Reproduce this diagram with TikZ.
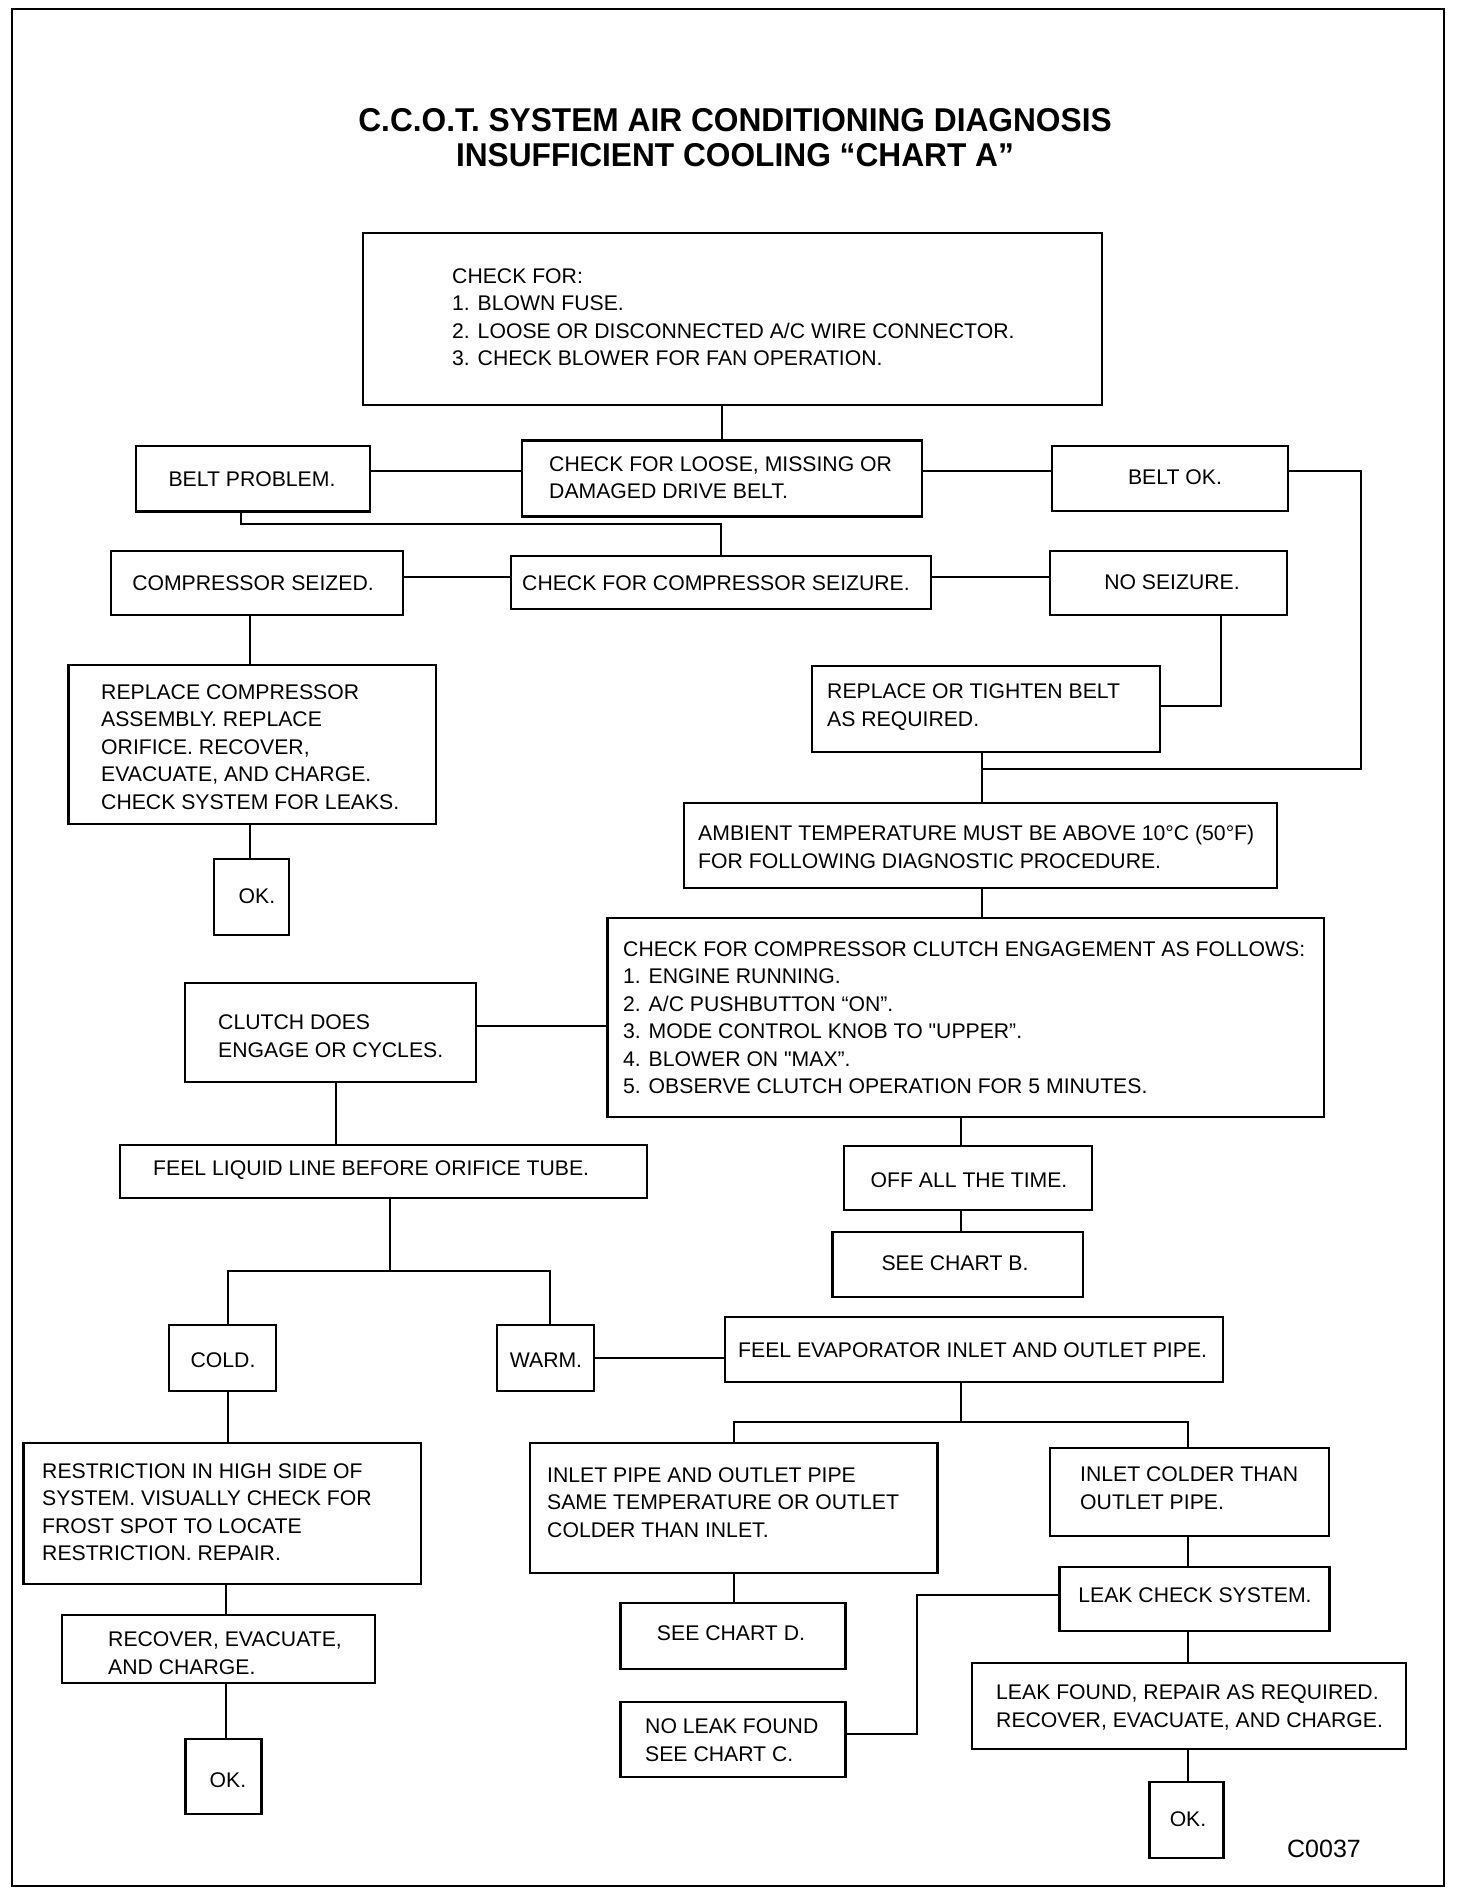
\documentclass[tikz,border=0pt]{standalone}
\usepackage{fontspec}
\setmainfont{Liberation Sans}
\newfontfamily\bodyfont{Liberation Sans}
\newfontfamily\titlefont{Liberation Sans}[FakeStretch=0.96]
\tikzset{
  bx/.style={draw, line width=2.6pt, inner sep=0pt, outer sep=0pt},
  ln/.style={line width=2pt},
  tx/.style={inner sep=0pt, align=left, font=\bodyfont\fontsize{21.2}{27.5}\selectfont},
  ttl/.style={inner sep=0pt, font=\titlefont\bfseries\fontsize{33}{35}\selectfont},
}
\newcommand{\bxx}[5]{\node[bx, minimum width={(#4)-(#2)}, minimum height={(#5)-(#3)}] (#1) at ({((#2)+(#4))/2},{((#3)+(#5))/2}) {};}
\begin{document}
\begin{tikzpicture}[x=1pt, y=-1pt]
\useasboundingbox (0,0) rectangle (1472,1896);
% frame
\node[bx, line width=2.5pt, minimum width=1432, minimum height=1877] (frame) at (728,947.5) {};
% title
\node[ttl] (title1) at (735,120) {C.C.O.T. SYSTEM AIR CONDITIONING DIAGNOSIS};
\node[ttl] (title2) at (735,155) {INSUFFICIENT COOLING “CHART A”};
% boxes
\bxx{b1}{363}{233}{1102}{405}
\bxx{bp}{136}{446}{370}{511.5}
\bxx{b2}{522}{440.5}{922}{516.5}
\bxx{bok}{1052}{446}{1288}{511}
\bxx{b3}{511}{556}{931}{609}
\bxx{cs}{111}{551}{403}{615}
\bxx{ns}{1050}{551}{1287}{615}
\bxx{rc}{68.5}{665}{436}{824}
\bxx{ok1}{214}{859}{289}{935}
\bxx{rt}{812}{666}{1160}{752}
\bxx{amb}{684}{803}{1277}{888}
\bxx{cl}{607.5}{918}{1324}{1117}
\bxx{ce}{185}{983}{476}{1082}
\bxx{fl}{120}{1145}{647}{1198}
\bxx{off}{844}{1146}{1092}{1210}
\bxx{cb}{832.5}{1232}{1083}{1297}
\bxx{cold}{169}{1325}{276}{1391}
\bxx{warm}{497}{1325}{594}{1391}
\bxx{evap}{725}{1317}{1223}{1382}
\bxx{ip}{530}{1443}{937.5}{1573}
\bxx{ic}{1050}{1448}{1329}{1536}
\bxx{cd}{620.6}{1603}{845.6}{1669}
\bxx{lc}{1059.4}{1567}{1329.4}{1631}
\bxx{nl}{620.6}{1702}{845.6}{1777}
\bxx{lf}{972}{1663}{1406}{1749}
\bxx{ok3}{1149.4}{1782}{1223.4}{1858}
\bxx{rs}{23.4}{1443}{421}{1584}
\bxx{rec}{62}{1615}{375}{1683}
\bxx{ok2}{185.6}{1739}{261.6}{1814}
% texts
\node[tx, anchor=west] (t1) at (452,317) {CHECK FOR:\\1. BLOWN FUSE.\\2. LOOSE OR DISCONNECTED A/C WIRE CONNECTOR.\\3. CHECK BLOWER FOR FAN OPERATION.};
\node[tx, anchor=west] (t2) at (549,477.5) {CHECK FOR LOOSE, MISSING OR\\DAMAGED DRIVE BELT.};
\node[tx] (tbp) at (252,479) {BELT PROBLEM.};
\node[tx] (tbok) at (1175,477.5) {BELT OK.};
\node[tx] (t3) at (716,583) {CHECK FOR COMPRESSOR SEIZURE.};
\node[tx] (tcs) at (253,583) {COMPRESSOR SEIZED.};
\node[tx] (tns) at (1172,582) {NO SEIZURE.};
\node[tx, anchor=west] (trc) at (101,747) {REPLACE COMPRESSOR\\ASSEMBLY. REPLACE\\ORIFICE. RECOVER,\\EVACUATE, AND CHARGE.\\CHECK SYSTEM FOR LEAKS.};
\node[tx] (tok1) at (257,896) {OK.};
\node[tx, anchor=west] (trt) at (827,707) {REPLACE OR TIGHTEN BELT\\AS REQUIRED.};
\node[tx, anchor=west] (tamb) at (698,847) {AMBIENT TEMPERATURE MUST BE ABOVE 10°C (50°F)\\FOR FOLLOWING DIAGNOSTIC PROCEDURE.};
\node[tx, anchor=west] (tcl) at (623,1017.5) {CHECK FOR COMPRESSOR CLUTCH ENGAGEMENT AS FOLLOWS:\\1. ENGINE RUNNING.\\2. A/C PUSHBUTTON “ON”.\\3. MODE CONTROL KNOB TO "UPPER”.\\4. BLOWER ON "MAX”.\\5. OBSERVE CLUTCH OPERATION FOR 5 MINUTES.};
\node[tx, anchor=west] (tce) at (218,1036) {CLUTCH DOES\\ENGAGE OR CYCLES.};
\node[tx, anchor=west] (tfl) at (153,1170) {FEEL LIQUID LINE BEFORE ORIFICE TUBE.};
\node[tx] (toff) at (969,1180) {OFF ALL THE TIME.};
\node[tx] (tcb) at (955,1263) {SEE CHART B.};
\node[tx] (tcold) at (223,1360) {COLD.};
\node[tx] (twarm) at (546,1360) {WARM.};
\node[tx, anchor=west] (tevap) at (738,1350) {FEEL EVAPORATOR INLET AND OUTLET PIPE.};
\node[tx, anchor=west] (tip) at (547,1502.5) {INLET PIPE AND OUTLET PIPE\\SAME TEMPERATURE OR OUTLET\\COLDER THAN INLET.};
\node[tx, anchor=west] (tic) at (1080,1488) {INLET COLDER THAN\\OUTLET PIPE.};
\node[tx] (tcd) at (731,1633) {SEE CHART D.};
\node[tx] (tlc) at (1195,1595) {LEAK CHECK SYSTEM.};
\node[tx, anchor=west] (tnl) at (645,1740) {NO LEAK FOUND\\SEE CHART C.};
\node[tx, anchor=west] (tlf) at (996,1707.5) {LEAK FOUND, REPAIR AS REQUIRED.\\RECOVER, EVACUATE, AND CHARGE.};
\node[tx] (tok3) at (1188,1819) {OK.};
\node[tx, anchor=west] (trs) at (42,1512) {RESTRICTION IN HIGH SIDE OF\\SYSTEM. VISUALLY CHECK FOR\\FROST SPOT TO LOCATE\\RESTRICTION. REPAIR.};
\node[tx, anchor=west] (trec) at (108,1653) {RECOVER, EVACUATE,\\AND CHARGE.};
\node[tx] (tok2) at (228,1780) {OK.};
\node[tx, font=\bodyfont\fontsize{25}{27}\selectfont] (code) at (1324,1849) {C0037};
% connectors
\coordinate (yA) at (0,471);
\draw[ln] (b2.north) -- (b2.north |- b1.south);
\draw[ln] (bp.east |- yA) -- (b2.west |- yA);
\draw[ln] (b2.east |- yA) -- (bok.west |- yA);
\coordinate (jR) at (1361,769);
\coordinate (jM) at (982,769);
\draw[ln] (bok.east |- yA) -| (jR) -- (jM);
\draw[ln] (rt.south -| jM) -- (amb.north -| jM);
\draw[ln] (amb.south -| jM) -- (cl.north -| jM);
\coordinate (jB) at (241,524);
\draw[ln] (bp.south -| jB) |- (b3.north |- jB) -- (b3.north);
\coordinate (yC) at (0,577);
\draw[ln] (cs.east |- yC) -- (b3.west |- yC);
\draw[ln] (b3.east |- yC) -- (ns.west |- yC);
\coordinate (xC) at (250,0);
\draw[ln] (cs.south -| xC) -- (rc.north -| xC);
\draw[ln] (rc.south -| xC) -- (ok1.north -| xC);
\coordinate (jN) at (1221,706);
\draw[ln] (ns.south -| jN) -- (jN) -- (rt.east |- jN);
\coordinate (yD) at (0,1026);
\draw[ln] (ce.east |- yD) -- (cl.west |- yD);
\coordinate (xE) at (336,0);
\draw[ln] (ce.south -| xE) -- (fl.north -| xE);
\coordinate (jF) at (390,1271);
\coordinate (xCold) at (228,0);
\coordinate (xWarm) at (550,0);
\draw[ln] (fl.south -| jF) -- (jF);
\draw[ln] (cold.north -| xCold) |- (jF) -| (warm.north -| xWarm);
\coordinate (xG) at (961,0);
\draw[ln] (cl.south -| xG) -- (off.north -| xG);
\draw[ln] (off.south -| xG) -- (cb.north -| xG);
\coordinate (yH) at (0,1358);
\draw[ln] (warm.east |- yH) -- (evap.west |- yH);
\coordinate (jI) at (961,1421.7);
\coordinate (xIp) at (734,0);
\coordinate (xIc) at (1188,0);
\draw[ln] (evap.south -| jI) -- (jI);
\draw[ln] (ip.north -| xIp) |- (jI) -| (ic.north -| xIc);
\draw[ln] (ip.south -| xIp) -- (cd.north -| xIp);
\draw[ln] (ic.south -| xIc) -- (lc.north -| xIc);
\draw[ln] (lc.south -| xIc) -- (lf.north -| xIc);
\draw[ln] (lf.south -| xIc) -- (ok3.north -| xIc);
\coordinate (jL1) at (917,1595);
\coordinate (jL2) at (917,1734);
\draw[ln] (lc.west |- jL1) -- (jL1) -- (jL2) -- (nl.east |- jL2);
\coordinate (xK) at (226,0);
\draw[ln] (cold.south -| xCold) -- (rs.north -| xCold);
\draw[ln] (rs.south -| xK) -- (rec.north -| xK);
\draw[ln] (rec.south -| xK) -- (ok2.north -| xK);
\end{tikzpicture}
\end{document}
